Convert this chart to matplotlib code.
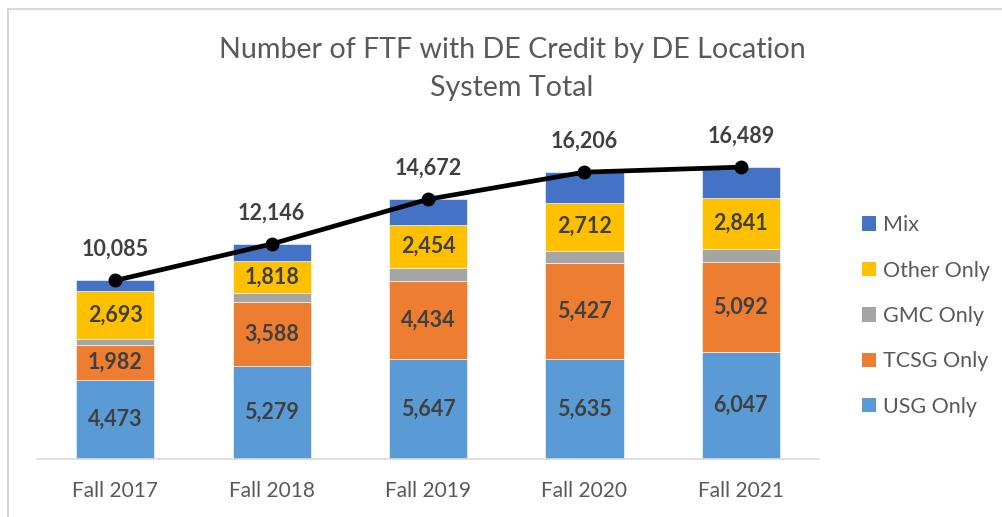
import matplotlib
matplotlib.use("Agg")
import matplotlib.pyplot as plt
from matplotlib.patches import Rectangle, Patch
import numpy as np

plt.rcParams['font.family'] = ['Lato', 'DejaVu Sans']

categories = ["Fall 2017", "Fall 2018", "Fall 2019", "Fall 2020", "Fall 2021"]
usg_only = [4473, 5279, 5647, 5635, 6047]
tcsg_only = [1982, 3588, 4434, 5427, 5092]
gmc_only = [345, 520, 695, 710, 745]
other_only = [2693, 1818, 2454, 2712, 2841]
mix = [592, 941, 1442, 1722, 1764]
totals = [10085, 12146, 14672, 16206, 16489]

series = [
    ("USG Only", usg_only, "#5B9BD5", True),
    ("TCSG Only", tcsg_only, "#ED7D31", True),
    ("GMC Only", gmc_only, "#A5A5A5", False),
    ("Other Only", other_only, "#FFC000", True),
    ("Mix", mix, "#4472C4", False),
]

W, H = 1002, 517
fig = plt.figure(figsize=(W / 100, H / 100), dpi=100)
fig.patch.set_facecolor("white")

# chart border
fig.patches.append(Rectangle((8 / W, -0.05), 1.2, (517 - 9) / H + 0.05,
                             transform=fig.transFigure, fill=False,
                             edgecolor="#D9D9D9", linewidth=1.5))

ax = fig.add_axes([37 / W, 58 / H, 782 / W, 318.6 / H])
x = np.arange(len(categories))
bottom = np.zeros(len(categories))
text_color = "#404040"
handles = []
for name, vals, color, labeled in series:
    vals = np.array(vals, dtype=float)
    ax.bar(x, vals, 0.5, bottom=bottom, color=color, label=name,
           edgecolor="white", linewidth=0.4)
    if labeled:
        for xi, b, v in zip(x, bottom, vals):
            ax.text(xi, b + v / 2, f"{int(v):,}", ha="center", va="center",
                    fontsize=15.5, fontweight="bold", color=text_color)
    bottom += vals
    handles.append(Patch(facecolor=color, label=name))

ax.plot(x, totals, color="black", linewidth=3.4, marker="o", markersize=9,
        zorder=5)
for xi, t in zip(x, totals):
    ax.annotate(f"{t:,}", (xi, t), xytext=(0, 31), textcoords="offset pixels",
                ha="center", va="center", fontsize=15.5, fontweight="bold",
                color=text_color)

ax.set_xlim(-0.5, 4.5)
ax.set_ylim(0, 18000)
ax.set_xticks(x)
ax.set_xticklabels(categories, fontsize=15, color="#595959")
ax.tick_params(axis="x", length=0, pad=16)
ax.set_yticks([])
for s in ["top", "right", "left"]:
    ax.spines[s].set_visible(False)
ax.spines["bottom"].set_color("#D9D9D9")
ax.spines["bottom"].set_linewidth(1.2)

fig.text(512 / W, 1 - 50 / H, "Number of FTF with DE Credit by DE Location",
         ha="center", va="center", fontsize=20.6, color="#595959")
fig.text(512 / W, 1 - 88 / H, "System Total",
         ha="center", va="center", fontsize=20.6, color="#595959")

fig.legend(handles=handles[::-1], loc="center left",
           bbox_to_anchor=(851 / W, 1 - 316 / H), frameon=False,
           fontsize=15.5, labelspacing=1.18, handlelength=0.65,
           handleheight=0.65, handletextpad=0.35, borderpad=0,
           labelcolor="#595959")

fig.savefig("out.png", dpi=100, facecolor="white")
